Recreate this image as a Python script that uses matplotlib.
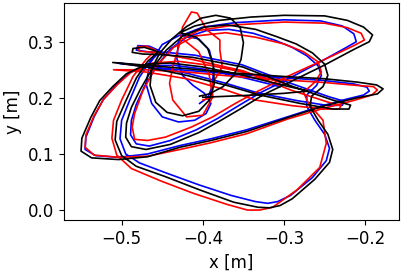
import matplotlib
matplotlib.use("Agg")
import matplotlib.pyplot as plt
import numpy as np

# Trajectories (x [m], y [m]).
BLACK = [
    (-0.404, 0.203), (-0.392, 0.207), (-0.375, 0.220), (-0.362, 0.240),
    (-0.353, 0.268), (-0.350, 0.298), (-0.354, 0.325), (-0.366, 0.342),
    (-0.384, 0.347), (-0.402, 0.342), (-0.420, 0.327), (-0.438, 0.305),
    (-0.453, 0.280), (-0.463, 0.252), (-0.465, 0.222), (-0.458, 0.192),
    (-0.444, 0.174), (-0.425, 0.168), (-0.405, 0.176), (-0.392, 0.196),
    (-0.386, 0.225), (-0.387, 0.258), (-0.394, 0.288), (-0.408, 0.308),
    (-0.428, 0.316),
    (-0.410, 0.328), (-0.380, 0.338), (-0.340, 0.344), (-0.300, 0.347),
    (-0.250, 0.346), (-0.222, 0.338), (-0.202, 0.326), (-0.191, 0.312),
    (-0.195, 0.300), (-0.213, 0.287), (-0.252, 0.257), (-0.293, 0.228),
    (-0.325, 0.206), (-0.354, 0.180), (-0.380, 0.158), (-0.405, 0.138),
    (-0.440, 0.117), (-0.470, 0.108), (-0.488, 0.113), (-0.495, 0.130),
    (-0.494, 0.155), (-0.488, 0.183), (-0.477, 0.215), (-0.461, 0.255),
    (-0.445, 0.285), (-0.425, 0.310), (-0.398, 0.326), (-0.370, 0.330),
    (-0.335, 0.322), (-0.309, 0.309), (-0.285, 0.296), (-0.265, 0.280),
    (-0.250, 0.260), (-0.246, 0.240), (-0.252, 0.220), (-0.266, 0.203),
    (-0.268, 0.185), (-0.258, 0.160), (-0.246, 0.135), (-0.240, 0.108),
    (-0.244, 0.085), (-0.262, 0.055), (-0.290, 0.020), (-0.305, 0.008),
    (-0.318, 0.004), (-0.332, 0.005), (-0.362, 0.014), (-0.404, 0.036),
    (-0.447, 0.060), (-0.482, 0.078), (-0.500, 0.097), (-0.508, 0.125),
    (-0.506, 0.158), (-0.495, 0.194), (-0.482, 0.235), (-0.468, 0.265),
    (-0.455, 0.282),
    (-0.472, 0.290), (-0.486, 0.288), (-0.487, 0.281), (-0.474, 0.278),
    (-0.450, 0.277), (-0.412, 0.272), (-0.351, 0.255), (-0.289, 0.220),
    (-0.240, 0.196), (-0.218, 0.187), (-0.220, 0.180), (-0.240, 0.180),
    (-0.280, 0.190), (-0.330, 0.205), (-0.370, 0.222), (-0.420, 0.240),
    (-0.470, 0.255), (-0.511, 0.263),
    (-0.470, 0.258), (-0.420, 0.252), (-0.360, 0.244), (-0.300, 0.238),
    (-0.250, 0.234), (-0.210, 0.228), (-0.186, 0.223), (-0.178, 0.216),
    (-0.185, 0.207), (-0.210, 0.200), (-0.250, 0.186), (-0.293, 0.166),
    (-0.346, 0.140), (-0.390, 0.124), (-0.428, 0.112), (-0.468, 0.095),
    (-0.504, 0.090), (-0.537, 0.093), (-0.550, 0.105), (-0.549, 0.128),
    (-0.538, 0.165), (-0.527, 0.195), (-0.511, 0.220), (-0.494, 0.243),
    (-0.469, 0.260), (-0.440, 0.262), (-0.400, 0.255), (-0.350, 0.240),
    (-0.300, 0.222), (-0.270, 0.212), (-0.300, 0.208), (-0.350, 0.204),
    (-0.400, 0.201),
]

BLUE = [
    (-0.404, 0.190), (-0.394, 0.200), (-0.388, 0.222), (-0.387, 0.255),
    (-0.392, 0.285), (-0.405, 0.305), (-0.428, 0.312), (-0.450, 0.295),
    (-0.465, 0.262), (-0.470, 0.225), (-0.463, 0.190), (-0.450, 0.166),
    (-0.430, 0.157), (-0.410, 0.160), (-0.396, 0.172), (-0.390, 0.190),
    (-0.398, 0.208), (-0.412, 0.222), (-0.425, 0.240), (-0.432, 0.270),
    (-0.430, 0.300), (-0.425, 0.312),
    (-0.400, 0.326), (-0.360, 0.334), (-0.300, 0.339), (-0.255, 0.337),
    (-0.228, 0.328), (-0.214, 0.314), (-0.211, 0.300), (-0.223, 0.290),
    (-0.258, 0.262), (-0.296, 0.233), (-0.328, 0.210), (-0.356, 0.186),
    (-0.382, 0.163), (-0.408, 0.143), (-0.440, 0.124), (-0.466, 0.114),
    (-0.482, 0.118), (-0.489, 0.134), (-0.488, 0.160), (-0.482, 0.188),
    (-0.472, 0.220), (-0.456, 0.258), (-0.440, 0.287), (-0.420, 0.308),
    (-0.395, 0.320), (-0.368, 0.322), (-0.338, 0.315), (-0.312, 0.303),
    (-0.290, 0.290), (-0.272, 0.275), (-0.258, 0.257), (-0.254, 0.240),
    (-0.260, 0.222), (-0.272, 0.205),
    (-0.272, 0.185), (-0.262, 0.160), (-0.250, 0.135), (-0.244, 0.110),
    (-0.248, 0.088), (-0.265, 0.058), (-0.292, 0.026), (-0.308, 0.015),
    (-0.320, 0.012), (-0.335, 0.015), (-0.365, 0.026), (-0.405, 0.045),
    (-0.445, 0.066), (-0.478, 0.084), (-0.495, 0.100), (-0.502, 0.127),
    (-0.500, 0.160), (-0.490, 0.196), (-0.478, 0.237), (-0.465, 0.265),
    (-0.452, 0.283),
    (-0.466, 0.292), (-0.480, 0.293), (-0.482, 0.285), (-0.468, 0.282),
    (-0.445, 0.281), (-0.410, 0.276), (-0.352, 0.259), (-0.292, 0.226),
    (-0.245, 0.202), (-0.226, 0.194), (-0.228, 0.187), (-0.245, 0.186),
    (-0.284, 0.195), (-0.333, 0.209), (-0.372, 0.226), (-0.420, 0.244),
    (-0.470, 0.257), (-0.505, 0.262),
    (-0.468, 0.255), (-0.420, 0.249), (-0.360, 0.242), (-0.300, 0.236),
    (-0.252, 0.231), (-0.215, 0.225), (-0.198, 0.219), (-0.195, 0.212),
    (-0.202, 0.205), (-0.222, 0.198), (-0.255, 0.185), (-0.296, 0.166),
    (-0.346, 0.143), (-0.390, 0.127), (-0.428, 0.115), (-0.468, 0.100),
    (-0.504, 0.094), (-0.532, 0.097), (-0.545, 0.108), (-0.544, 0.130),
    (-0.534, 0.166), (-0.523, 0.196), (-0.507, 0.222), (-0.490, 0.245),
    (-0.466, 0.257), (-0.436, 0.258), (-0.398, 0.251), (-0.350, 0.236),
    (-0.305, 0.220),
]

RED = [
    (-0.400, 0.196), (-0.388, 0.201), (-0.388, 0.226), (-0.376, 0.255),
    (-0.379, 0.285), (-0.379, 0.303), (-0.395, 0.321), (-0.407, 0.351),
    (-0.414, 0.353), (-0.425, 0.326), (-0.428, 0.299), (-0.437, 0.255),
    (-0.441, 0.226), (-0.437, 0.196), (-0.420, 0.166), (-0.400, 0.169),
    (-0.388, 0.201), (-0.392, 0.240), (-0.405, 0.282), (-0.425, 0.305),
    (-0.405, 0.320), (-0.360, 0.330), (-0.300, 0.335), (-0.250, 0.333),
    (-0.222, 0.325), (-0.205, 0.315), (-0.201, 0.303), (-0.214, 0.293),
    (-0.255, 0.265), (-0.296, 0.238), (-0.332, 0.212), (-0.360, 0.190),
    (-0.388, 0.166), (-0.414, 0.148), (-0.446, 0.130), (-0.468, 0.124),
    (-0.484, 0.126), (-0.487, 0.148), (-0.484, 0.172), (-0.474, 0.212),
    (-0.458, 0.255), (-0.436, 0.290), (-0.410, 0.310), (-0.372, 0.316),
    (-0.335, 0.308), (-0.300, 0.296), (-0.276, 0.282), (-0.258, 0.264),
    (-0.254, 0.246), (-0.262, 0.228), (-0.276, 0.210),
    (-0.270, 0.190), (-0.252, 0.160), (-0.248, 0.119), (-0.256, 0.076),
    (-0.284, 0.036), (-0.314, 0.005), (-0.330, 0.000), (-0.345, 0.000),
    (-0.370, 0.010), (-0.412, 0.030), (-0.452, 0.052), (-0.488, 0.074),
    (-0.506, 0.098), (-0.512, 0.128), (-0.510, 0.160), (-0.500, 0.196),
    (-0.486, 0.238), (-0.470, 0.268), (-0.458, 0.285),
    (-0.470, 0.292), (-0.480, 0.291), (-0.478, 0.283), (-0.460, 0.281),
    (-0.412, 0.268), (-0.350, 0.248), (-0.292, 0.214), (-0.245, 0.192),
    (-0.230, 0.186), (-0.232, 0.180), (-0.250, 0.180), (-0.290, 0.186),
    (-0.335, 0.196), (-0.372, 0.214), (-0.420, 0.234), (-0.470, 0.246),
    (-0.510, 0.250),
    (-0.470, 0.250), (-0.420, 0.246), (-0.360, 0.238), (-0.300, 0.232),
    (-0.248, 0.227), (-0.210, 0.222), (-0.190, 0.220), (-0.185, 0.214),
    (-0.192, 0.205), (-0.215, 0.195), (-0.252, 0.181), (-0.296, 0.162),
    (-0.346, 0.136), (-0.390, 0.120), (-0.428, 0.108), (-0.468, 0.096),
    (-0.504, 0.094), (-0.534, 0.098), (-0.545, 0.112), (-0.544, 0.134),
    (-0.534, 0.168), (-0.522, 0.198), (-0.505, 0.224), (-0.488, 0.246),
    (-0.462, 0.262), (-0.430, 0.265), (-0.392, 0.258), (-0.345, 0.244),
    (-0.300, 0.226),
]

black = np.array(BLACK)
blue = np.array(BLUE)
red = np.array(RED)

fig = plt.figure(figsize=(4.05, 2.71), dpi=100)
ax = fig.add_axes([0.158, 0.188, 0.828, 0.801])

ax.plot(blue[:, 0], blue[:, 1], color="blue", linewidth=1.2)
ax.plot(red[:, 0], red[:, 1], color="red", linewidth=1.2)
ax.plot(black[:, 0], black[:, 1], color="black", linewidth=1.2)

ax.set_xlim(-0.571, -0.158)
ax.set_ylim(-0.0178, 0.369)
ax.set_xticks([-0.5, -0.4, -0.3, -0.2])
ax.set_yticks([0.0, 0.1, 0.2, 0.3])
ax.tick_params(labelsize=12)
ax.set_xlabel("x [m]", fontsize=12)
ax.set_ylabel("y [m]", fontsize=12)

fig.savefig("out.png", dpi=100)
